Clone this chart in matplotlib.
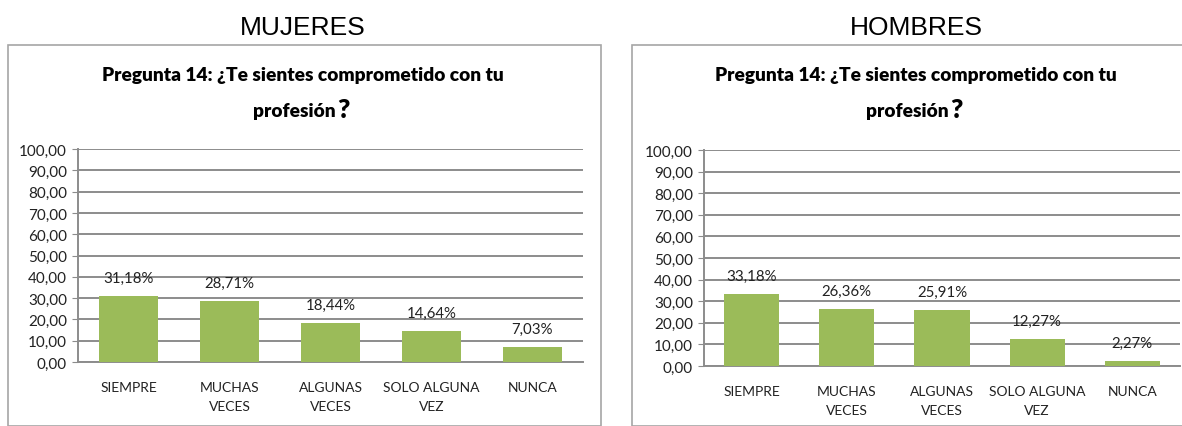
import matplotlib
matplotlib.use("Agg")
import matplotlib.pyplot as plt
from matplotlib.patches import Rectangle
from matplotlib.ticker import FuncFormatter, MultipleLocator

W, H = 1182, 427

categorias = ["SIEMPRE", "MUCHAS\nVECES", "ALGUNAS\nVECES", "SOLO ALGUNA\nVEZ", "NUNCA"]
mujeres = [31.18, 28.71, 18.44, 14.64, 7.03]
hombres = [33.18, 26.36, 25.91, 12.27, 2.27]

BAR_COLOR = "#9BBB59"
GRID_COLOR = "#8C8C8C"
FONT = "Lato"


def fx(x):
    return x / W


def fy(y):
    return 1 - y / H


def coma(v, pos=None):
    return f"{v:.2f}".replace(".", ",")


def draw_panel(fig, rect, values, box, title_cx, title_y):
    # outer box of the excel chart
    bx0, by0, bx1 = box
    fig.patches.append(Rectangle((fx(bx0), 0), fx(bx1) - fx(bx0), fy(by0), transform=fig.transFigure,
                                 fill=False, edgecolor="#A6A6A6", linewidth=1.2))

    fig.text(fx(title_cx), fy(title_y), "Pregunta 14: ¿Te sientes comprometido con tu",
             ha="center", va="center", fontsize=13.8, fontweight="heavy", family=FONT)
    fig.text(fx(title_cx + 33), fy(title_y + 37), "profesión", ha="right", va="center",
             fontsize=13.8, fontweight="heavy", family=FONT)
    fig.text(fx(title_cx + 34), fy(title_y + 35), "?", ha="left", va="center",
             fontsize=19, fontweight="heavy", family=FONT)

    ax = fig.add_axes(rect)
    x = range(len(values))
    bars = ax.bar(x, values, width=0.58, color=BAR_COLOR, zorder=3)
    for b, v in zip(bars, values):
        ax.annotate(f"{v:.2f}%".replace(".", ","), (b.get_x() + b.get_width() / 2, v),
                    xytext=(0, 8), textcoords="offset points", ha="center", va="bottom",
                    fontsize=10.8, family=FONT, color="#222222")

    ax.set_xlim(-0.5, len(values) - 0.5)
    ax.set_ylim(0, 100)
    ax.yaxis.set_major_locator(MultipleLocator(10))
    ax.yaxis.set_major_formatter(FuncFormatter(coma))
    ax.grid(axis="y", color=GRID_COLOR, linewidth=1.4, zorder=0)
    ax.set_xticks(list(x))
    ax.set_xticklabels(categorias, family=FONT, fontsize=10, linespacing=1.7, color="#222222")
    for lab in ax.get_yticklabels():
        lab.set_family(FONT)
        lab.set_fontsize(11)
        lab.set_color("#222222")
    ax.tick_params(axis="x", length=0, pad=14)
    ax.tick_params(axis="y", length=4, color=GRID_COLOR, pad=4)
    for s in ["top", "right"]:
        ax.spines[s].set_visible(False)
    ax.spines["left"].set_color(GRID_COLOR)
    ax.spines["bottom"].set_color(GRID_COLOR)
    ax.spines["left"].set_linewidth(1.4)
    ax.spines["bottom"].set_linewidth(1.4)
    ax.set_facecolor("none")
    return ax


fig = plt.figure(figsize=(W / 100, H / 100), dpi=100)

fig.text(fx(303), fy(28), "MUJERES", ha="center", va="center", fontsize=19, family="Liberation Sans")
fig.text(fx(916), fy(28), "HOMBRES", ha="center", va="center", fontsize=19, family="Liberation Sans")

draw_panel(fig, [fx(78), fy(363), fx(583) - fx(78), fy(150) - fy(363)], mujeres,
           (8, 46, 601), 303, 75)
draw_panel(fig, [fx(704), fy(367), fx(1180) - fx(704), fy(151) - fy(367)], hombres,
           (632, 46, 1190), 916, 75)

fig.savefig("out.png", dpi=100)
